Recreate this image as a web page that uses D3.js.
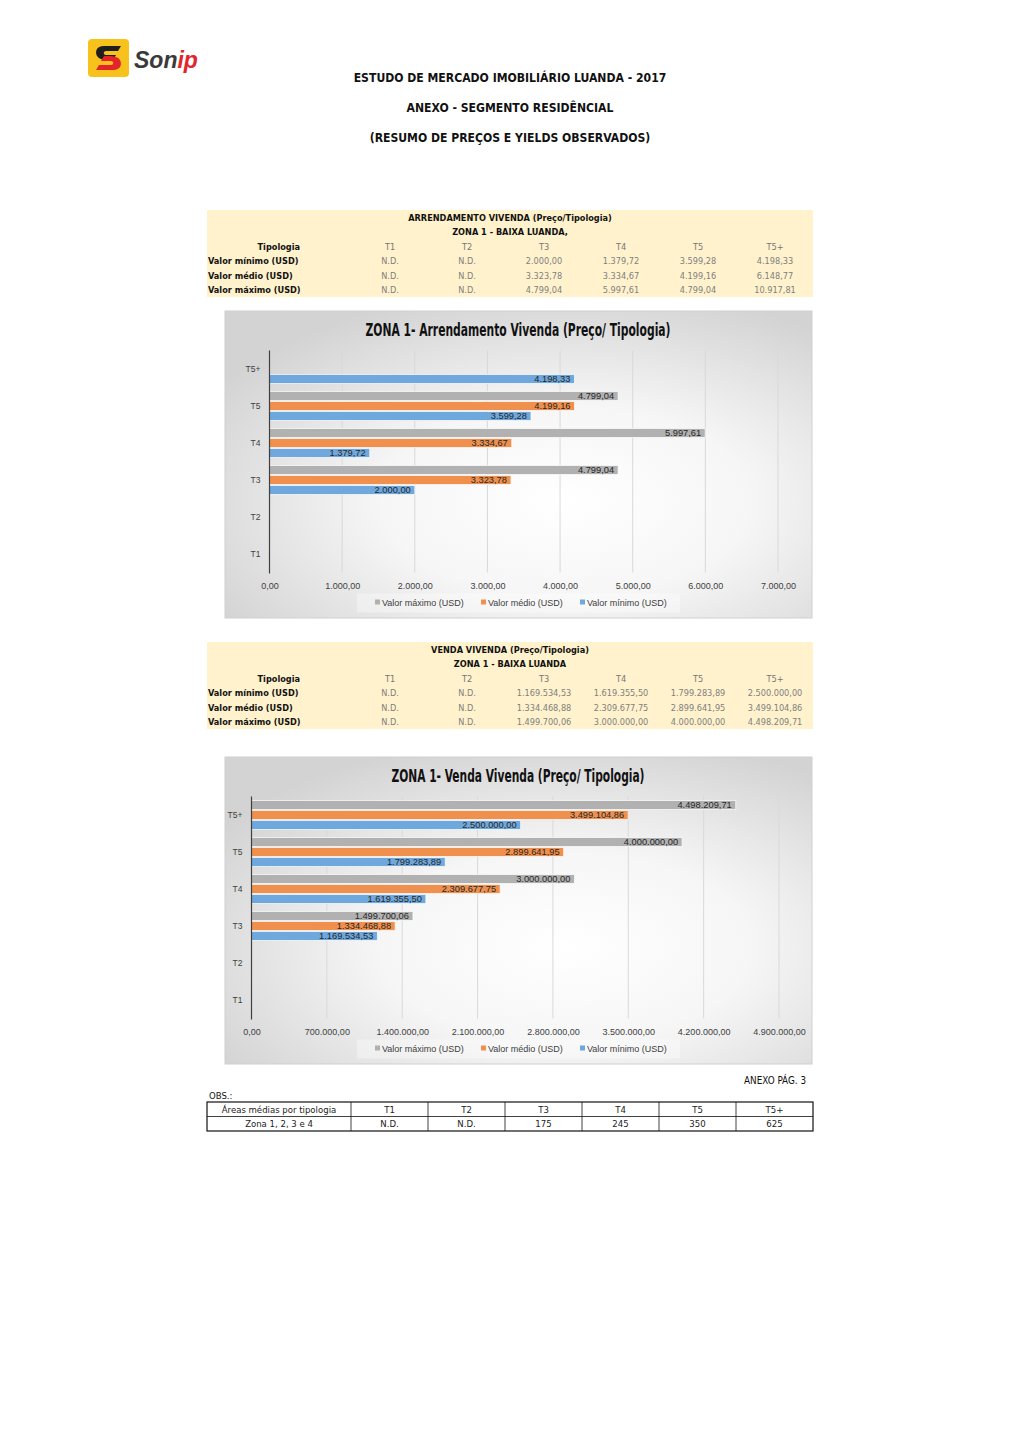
<!DOCTYPE html>
<html><head><meta charset="utf-8">
<script src="https://cdn.jsdelivr.net/npm/d3@7"></script>
<style>
html,body{margin:0;padding:0;background:#fff;}
svg{display:block;}
</style></head>
<body>
<script>
// ---------- DATA ----------
const categories = ["T1","T2","T3","T4","T5","T5+"];
const seriesNames = ["Valor mínimo (USD)","Valor médio (USD)","Valor máximo (USD)"];

// Arrendamento (rent) table values
const rentMin = [null,null,2000.00,1379.72,3599.28,4198.33];
const rentAvg = [null,null,3323.78,3334.67,4199.16,6148.77];
const rentMax = [null,null,4799.04,5997.61,4799.04,10917.81];
// values shown in the rent chart (T5+ only shows the minimum)
const rentChartMin = [null,null,2000.00,1379.72,3599.28,4198.33];
const rentChartAvg = [null,null,3323.78,3334.67,4199.16,null];
const rentChartMax = [null,null,4799.04,5997.61,4799.04,null];
const rentTicks = [0,1000,2000,3000,4000,5000,6000,7000];

// Venda (sale) values
const saleMin = [null,null,1169534.53,1619355.50,1799283.89,2500000.00];
const saleAvg = [null,null,1334468.88,2309677.75,2899641.95,3499104.86];
const saleMax = [null,null,1499700.06,3000000.00,4000000.00,4498209.71];
const saleTicks = [0,700000,1400000,2100000,2800000,3500000,4200000,4900000];

// Areas
const areaLabels = ["Áreas médias por tipologia","Zona 1, 2, 3 e 4"];
const areaValues = [null,null,175,245,350,625];

// ---------- SETUP ----------
const W = 1020, H = 1442;
const locale = d3.formatLocale({decimal:",", thousands:".", grouping:[3], currency:["",""]});
const fmt = locale.format(",.2f");
const fmtCell = v => v == null ? "N.D." : fmt(v);
const NARROW = "'Liberation Sans Narrow','DejaVu Sans Condensed',Arial Narrow,sans-serif";
const SANS = "'Liberation Sans',Arial,sans-serif";
const colors = {max:"#b1b1b1", avg:"#f0904f", min:"#6fa8dc"};

const svg = d3.select("body").append("svg").attr("width",W).attr("height",H);
svg.append("rect").attr("width",W).attr("height",H).attr("fill","#fff");
const defs = svg.append("defs");
const grad = defs.append("radialGradient").attr("id","bg").attr("cx","58%").attr("cy","62%").attr("r","70%");
grad.append("stop").attr("offset","0%").attr("stop-color","#ffffff");
grad.append("stop").attr("offset","45%").attr("stop-color","#f6f6f6");
grad.append("stop").attr("offset","100%").attr("stop-color","#d3d3d3");

// ---------- LOGO ----------
const logo = svg.append("g");
logo.append("rect").attr("x",88).attr("y",39).attr("width",41).attr("height",38).attr("rx",4).attr("fill","#f8c21c");
logo.append("path").attr("d","M121,46 L104,46 C96,46 95,52 97,56 C99,59 103,60 107,60 L113,60 L116,55 L106,55 C103,55 103,51 106,51 L118,51 Z").attr("fill","#1e1e1e");
logo.append("path").attr("d","M96,70 L113,70 C121,70 122,64 120,60 C118,57 114,56 110,56 L104,56 L101,61 L111,61 C114,61 114,65 111,65 L99,65 Z").attr("fill","#e4242b");
const lt = logo.append("text").attr("x",134).attr("y",68).attr("font-family",SANS).attr("font-size",23).attr("font-weight","bold").attr("font-style","italic");
lt.append("tspan").attr("fill","#3a3a3a").text("Son");
lt.append("tspan").attr("fill","#e4242b").text("ip");

// ---------- HEADERS ----------
const headers = ["ESTUDO DE MERCADO IMOBILIÁRIO LUANDA - 2017","ANEXO - SEGMENTO RESIDÊNCIAL","(RESUMO DE PREÇOS E YIELDS OBSERVADOS)"];
headers.forEach((t,i)=>{
  svg.append("text").attr("x",510).attr("y",82+i*30).attr("text-anchor","middle")
    .attr("font-family",NARROW).attr("font-weight","bold").attr("font-size",12.1).attr("fill","#111").text(t);
});

// ---------- TABLES ----------
const colX = [390,467,544,621,698,775];
const TF = 9.1;
function drawTable(y0, title, zone, mins, avgs, maxs){
  const g = svg.append("g");
  g.append("rect").attr("x",207).attr("y",y0).attr("width",606).attr("height",87).attr("fill","#fff2cc");
  const rowY = [y0+11, y0+25, y0+40, y0+54, y0+69, y0+83];
  g.append("text").attr("x",510).attr("y",rowY[0]).attr("text-anchor","middle").attr("font-family",NARROW).attr("font-weight","bold").attr("font-size",TF).attr("fill","#111").text(title);
  g.append("text").attr("x",510).attr("y",rowY[1]).attr("text-anchor","middle").attr("font-family",NARROW).attr("font-weight","bold").attr("font-size",TF).attr("fill","#111").text(zone);
  g.append("text").attr("x",300).attr("y",rowY[2]).attr("text-anchor","end").attr("font-family",NARROW).attr("font-weight","bold").attr("font-size",TF).attr("fill","#111").text("Tipologia");
  categories.forEach((c,i)=>{
    g.append("text").attr("x",colX[i]).attr("y",rowY[2]).attr("text-anchor","middle").attr("font-family",NARROW).attr("font-size",TF).attr("fill","#777").text(c);
  });
  const rows = [["Valor mínimo (USD)",mins],["Valor médio (USD)",avgs],["Valor máximo (USD)",maxs]];
  rows.forEach((r,j)=>{
    g.append("text").attr("x",208).attr("y",rowY[3+j]).attr("font-family",NARROW).attr("font-weight","bold").attr("font-size",TF).attr("fill","#111").text(r[0]);
    r[1].forEach((v,i)=>{
      g.append("text").attr("x",colX[i]).attr("y",rowY[3+j]).attr("text-anchor","middle").attr("font-family",NARROW).attr("font-size",TF).attr("fill","#808080").text(fmtCell(v));
    });
  });
}
drawTable(210,"ARRENDAMENTO VIVENDA (Preço/Tipologia)","ZONA 1 - BAIXA LUANDA,",rentMin,rentAvg,rentMax);
drawTable(642,"VENDA VIVENDA (Preço/Tipologia)","ZONA 1 - BAIXA LUANDA",saleMin,saleAvg,saleMax);

// ---------- CHARTS ----------
function drawChart(o){
  const g = svg.append("g");
  g.append("rect").attr("x",o.bx).attr("y",o.by).attr("width",o.bw).attr("height",o.bh)
    .attr("fill","url(#bg)").attr("stroke","#d0d0d0").attr("stroke-width",1);
  g.append("text").attr("x",o.titleX).attr("y",o.by+25).attr("text-anchor","middle")
    .attr("font-family",NARROW).attr("font-weight","bold").attr("font-size",18).attr("fill","#111")
    .attr("textLength",o.titleW).attr("lengthAdjust","spacingAndGlyphs").text(o.title);

  const x = d3.scaleLinear().domain([0,o.ticks[o.ticks.length-1]]).range([o.x0,o.x1]);
  const y = d3.scaleBand().domain(categories.slice().reverse()).range([o.top,o.bottom]);
  const inner = d3.scaleBand().domain(["max","avg","min"]).range([(y.bandwidth()-30)/2,(y.bandwidth()-30)/2+30]);

  // gridlines
  g.append("g").selectAll("line").data(o.ticks.slice(1)).join("line")
    .attr("x1",d=>x(d)).attr("x2",d=>x(d)).attr("y1",o.top).attr("y2",o.bottom)
    .attr("stroke","#d9d9d9").attr("stroke-width",1);

  // x axis labels
  const xa = g.append("g").attr("transform",`translate(0,${o.bottom})`)
    .call(d3.axisBottom(x).tickValues(o.ticks).tickSize(0).tickPadding(10).tickFormat(d=>fmt(d)));
  xa.select(".domain").remove();
  xa.selectAll("text").attr("font-family",SANS).attr("font-size",9).attr("fill","#404040");

  // y axis labels
  const ya = g.append("g").attr("transform",`translate(${o.x0},0)`)
    .call(d3.axisLeft(y).tickSize(0).tickPadding(o.yPad));
  ya.select(".domain").remove();
  ya.selectAll("text").attr("font-family",SANS).attr("font-size",8.5).attr("fill","#404040");

  // bars
  const series = [["max",o.max],["avg",o.avg],["min",o.min]];
  const bars = [];
  series.forEach(([k,arr])=>{
    arr.forEach((v,i)=>{ if(v!=null) bars.push({k,v,c:categories[i]}); });
  });
  const bh = inner.bandwidth()-1;
  g.append("g").selectAll("rect").data(bars).join("rect")
    .attr("x",x(0)).attr("y",d=>y(d.c)+inner(d.k)+0.5)
    .attr("width",d=>x(d.v)-x(0)).attr("height",bh)
    .attr("fill",d=>colors[d.k]).attr("stroke","#ffffff").attr("stroke-opacity",0.7).attr("stroke-width",1);
  g.append("g").selectAll("text").data(bars).join("text")
    .attr("x",d=>x(d.v)-4).attr("y",d=>y(d.c)+inner(d.k)+0.5+bh/2+3.3)
    .attr("text-anchor","end").attr("font-family",SANS).attr("font-size",9.3).attr("fill","#262626")
    .text(d=>fmt(d.v));

  // vertical axis line
  g.append("line").attr("x1",o.x0).attr("x2",o.x0).attr("y1",o.top).attr("y2",o.bottom+1)
    .attr("stroke","#404040").attr("stroke-width",1.2);

  // legend
  const ly = o.bottom+30;
  g.append("rect").attr("x",357).attr("y",ly-9).attr("width",323).attr("height",19).attr("fill","#ffffff").attr("fill-opacity",0.35);
  const legItems = [["max","Valor máximo (USD)",375],["avg","Valor médio (USD)",481],["min","Valor mínimo (USD)",580]];
  legItems.forEach(([k,t,lx])=>{
    g.append("rect").attr("x",lx).attr("y",ly-3).attr("width",5).attr("height",5).attr("fill",colors[k]);
    g.append("text").attr("x",lx+7).attr("y",ly+3).attr("font-family",SANS).attr("font-size",9).attr("fill","#404040").text(t);
  });
}

drawChart({bx:225,by:311,bw:587,bh:307,title:"ZONA 1- Arrendamento Vivenda (Preço/ Tipologia)",titleX:518,titleW:305,
  x0:269.5,x1:778,top:350.5,bottom:572.5,ticks:rentTicks,yPad:9,
  min:rentChartMin,avg:rentChartAvg,max:rentChartMax});
drawChart({bx:225,by:757,bw:587,bh:307,title:"ZONA 1- Venda Vivenda (Preço/ Tipologia)",titleX:518,titleW:253,
  x0:251.5,x1:779,top:796.5,bottom:1018.5,ticks:saleTicks,yPad:9,
  min:saleMin,avg:saleAvg,max:saleMax});

// ---------- FOOTER ----------
svg.append("text").attr("x",806).attr("y",1084).attr("text-anchor","end").attr("font-family",NARROW).attr("font-size",9.8).attr("fill","#111").text("ANEXO PÁG. 3");
svg.append("text").attr("x",209).attr("y",1099).attr("font-family",NARROW).attr("font-size",9.5).attr("fill","#111").text("OBS.:");
const colEdges = [207,351,428,505,582,659,736,813];
const tg = svg.append("g");
const ty0 = 1102, rh = 14.5;
tg.append("rect").attr("x",207).attr("y",ty0).attr("width",606).attr("height",rh*2).attr("fill","none").attr("stroke","#111").attr("stroke-width",1.2);
tg.append("line").attr("x1",207).attr("x2",813).attr("y1",ty0+rh).attr("y2",ty0+rh).attr("stroke","#111").attr("stroke-width",0.8);
colEdges.slice(1,-1).forEach(cx=>{
  tg.append("line").attr("x1",cx).attr("x2",cx).attr("y1",ty0).attr("y2",ty0+rh*2).attr("stroke","#111").attr("stroke-width",0.8);
});
const centers = colEdges.slice(0,-1).map((e,i)=>(e+colEdges[i+1])/2);
const row1 = [areaLabels[0]].concat(categories);
const row2 = [areaLabels[1]].concat(areaValues.map(v=>v==null?"N.D.":String(v)));
[row1,row2].forEach((r,j)=>{
  r.forEach((t,i)=>{
    tg.append("text").attr("x",centers[i]).attr("y",ty0+rh*j+10.5).attr("text-anchor","middle")
      .attr("font-family",NARROW).attr("font-size",9.5).attr("fill","#222").text(t);
  });
});
</script>
</body></html>
